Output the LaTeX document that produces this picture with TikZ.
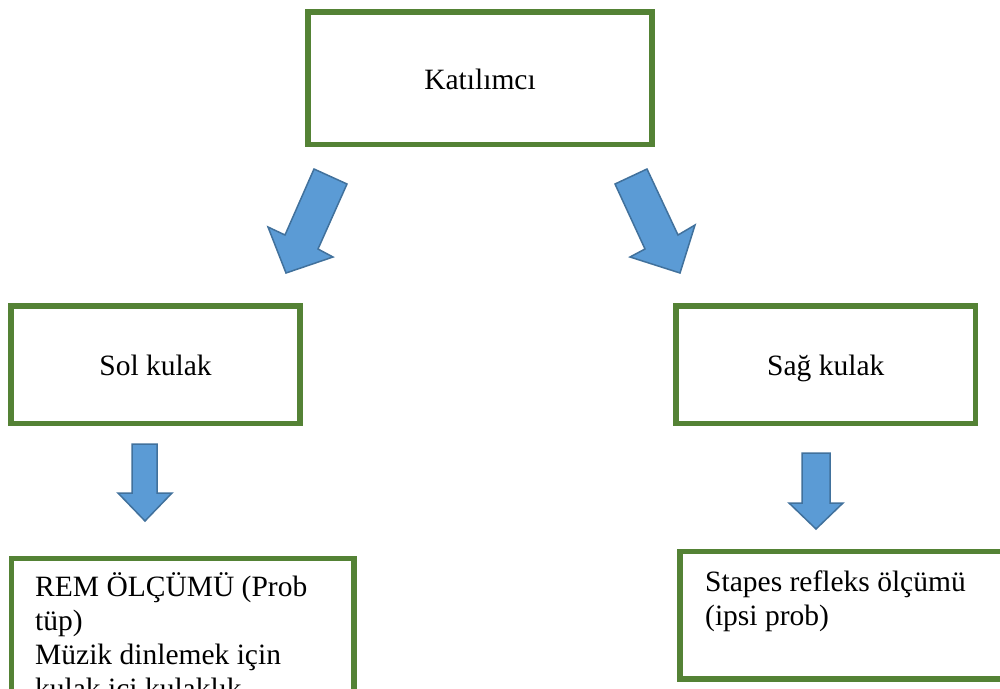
\documentclass[tikz,border=0pt]{standalone}
\usepackage{fontspec}
\setmainfont{Liberation Serif}
\definecolor{boxgreen}{HTML}{548235}
\definecolor{arrfill}{HTML}{5B9BD5}
\definecolor{arrline}{HTML}{41719C}
\tikzset{
  box/.style={draw=boxgreen, line width=5.5pt, fill=white, inner sep=0pt, outer sep=0pt},
  label/.style={font=\fontsize{29.5}{33}\selectfont, text=black, inner sep=0pt},
  boxlabel/.style={label, text height=28pt, text depth=6pt},
  blockarrow/.style={fill=arrfill, draw=arrline, line width=1.5pt, line join=miter}
}
\begin{document}
\begin{tikzpicture}[x=1pt,y=-1pt]
\useasboundingbox (0,0) rectangle (1000,688);
\clip (0,0) rectangle (1000,688);
\fill[white] (0,0) rectangle (1000,688);
% boxes
\node[box, minimum width=344pt, minimum height=132.5pt, boxlabel] (kat) at (480,78) {Katılımcı};
\node[box, minimum width=289pt, minimum height=117.5pt, boxlabel] (sol) at (155.5,364.75) {Sol kulak};
\node[box, minimum width=299.5pt, minimum height=117.5pt, boxlabel] (sag) at (825.75,364.75) {Sağ kulak};
\node[box, minimum width=342.5pt, minimum height=200pt, anchor=north west] (rem) at (11.5,558.5) {};
\node[box, minimum width=360pt, minimum height=127.5pt, anchor=north west] (sta) at (680,551.5) {};
% texts of the lower boxes
\node[label, anchor=base west] (rem1) at (35,596) {REM ÖLÇÜMÜ (Prob};
\node[label, anchor=base west] (rem2) at ([yshift=-34pt]rem1.base west) {tüp)};
\node[label, anchor=base west] (rem3) at ([yshift=-34pt]rem2.base west) {Müzik dinlemek için};
\node[label, anchor=base west] (rem4) at ([yshift=-34pt]rem3.base west) {kulak içi kulaklık};
\node[label, anchor=base west] (sta1) at (705,591) {Stapes refleks ölçümü};
\node[label, anchor=base west] (sta2) at ([yshift=-34pt]sta1.base west) {(ipsi prob)};
% block arrows
\draw[blockarrow] (314,169) -- (347,184) -- (318,249) -- (333,257) -- (286,273) -- (268,227) -- (285,235) -- cycle;
\draw[blockarrow] (615,184) -- (647,169) -- (678,235) -- (695,225) -- (680,273) -- (630,257) -- (645,249) -- cycle;
\draw[blockarrow] (132,444) -- (157,444) -- (157,493) -- (172,493) -- (145,521) -- (118,493) -- (132,493) -- cycle;
\draw[blockarrow] (802,453) -- (830,453) -- (830,503) -- (843,503) -- (816,529) -- (789,503) -- (802,503) -- cycle;
\end{tikzpicture}
\end{document}
